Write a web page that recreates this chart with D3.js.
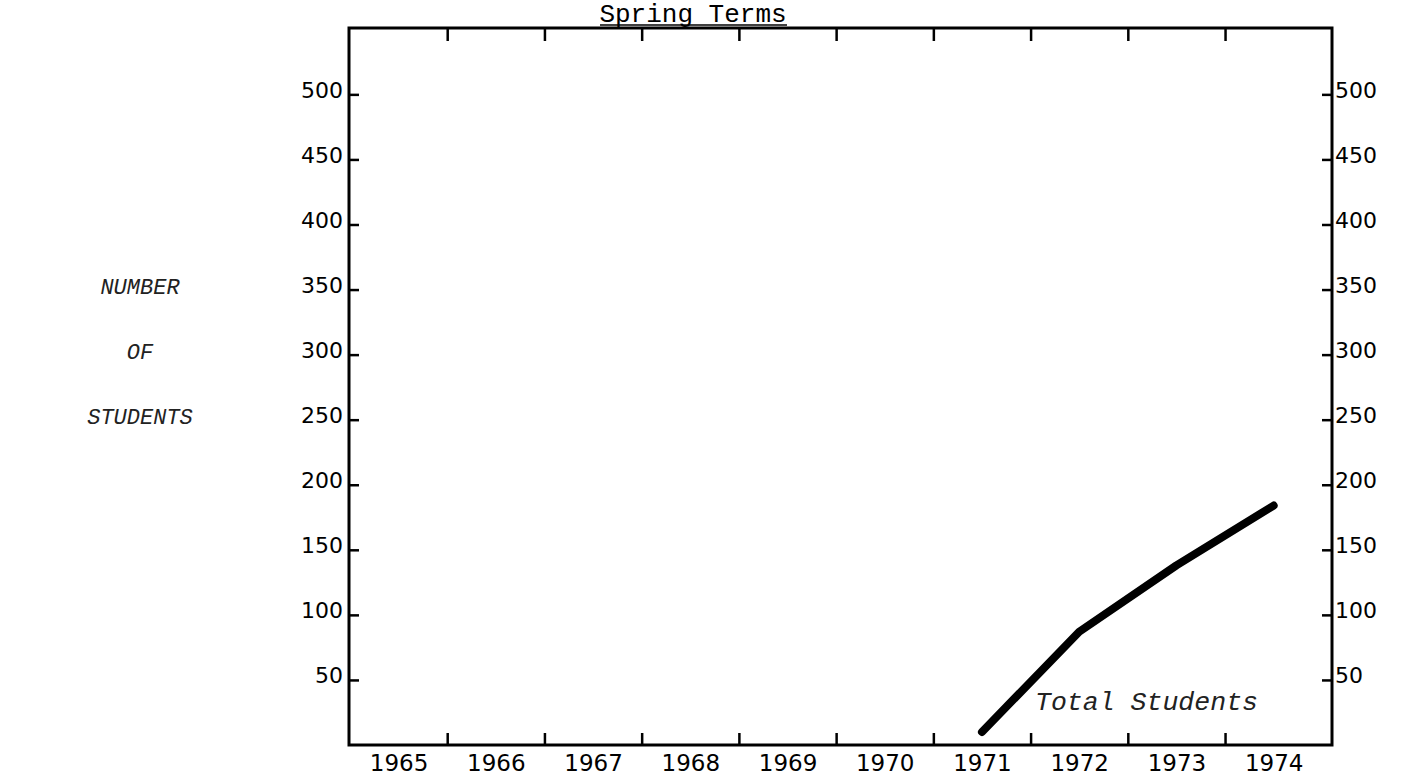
<!DOCTYPE html>
<html>
<head>
<meta charset="utf-8">
<script src="https://cdn.jsdelivr.net/npm/d3@7"></script>
<style>
  html, body { margin: 0; padding: 0; background: #fff; }
  svg { display: block; }
</style>
</head>
<body>
<svg id="chart" width="1403" height="783"></svg>
<script>
// ---- data ----
const years = [1965, 1966, 1967, 1968, 1969, 1970, 1971, 1972, 1973, 1974];
const tickYears = [1965.5, 1966.5, 1967.5, 1968.5, 1969.5, 1970.5, 1971.5, 1972.5, 1973.5];
const yTicks = [50, 100, 150, 200, 250, 300, 350, 400, 450, 500];
const seriesYears = [1971, 1972, 1973, 1974];
const totalStudents = [10, 87, 138, 184];
const chartTitle = "Spring Terms";
const seriesLabel = "Total Students";
const yTitle = ["NUMBER", "OF", "STUDENTS"];

// ---- layout ----
const mLeft = 349, mRight = 1332, mTop = 28, mBottom = 745;
const svg = d3.select("#chart");
svg.append("rect").attr("width", 1403).attr("height", 783).attr("fill", "#fff");

const x = d3.scaleLinear().domain([1964.49, 1974.6]).range([mLeft, mRight]);
const y = d3.scaleLinear().domain([0, 551]).range([mBottom, mTop]);

const tickFont = "'DejaVu Sans', sans-serif";
const monoFont = "'Liberation Mono', 'Courier New', monospace";

// frame
svg.append("rect")
  .attr("x", mLeft).attr("y", mTop)
  .attr("width", mRight - mLeft).attr("height", mBottom - mTop)
  .attr("fill", "none").attr("stroke", "#000").attr("stroke-width", 3);

function styleAxis(g) {
  g.select(".domain").remove();
  g.selectAll(".tick line").attr("stroke", "#000").attr("stroke-width", 2.5);
  g.selectAll(".tick text").attr("fill", "#000");
}

// bottom ticks (inward)
svg.append("g").attr("transform", `translate(0,${mBottom})`)
  .call(d3.axisBottom(x).tickValues(tickYears).tickSize(-12).tickFormat(""))
  .call(styleAxis);
// top ticks (inward)
svg.append("g").attr("transform", `translate(0,${mTop})`)
  .call(d3.axisTop(x).tickValues(tickYears).tickSize(-13).tickFormat(""))
  .call(styleAxis);
// bottom year labels
const xl = svg.append("g").attr("transform", `translate(0,${mBottom})`)
  .call(d3.axisBottom(x).tickValues(years).tickSize(0).tickPadding(10).tickFormat(d3.format("d")))
  .call(styleAxis);
xl.selectAll(".tick text").attr("font-family", tickFont).attr("font-size", 23).attr("dy", "0.71em");

// left axis
const yl = svg.append("g").attr("transform", `translate(${mLeft},0)`)
  .call(d3.axisLeft(y).tickValues(yTicks).tickSize(-10).tickPadding(6))
  .call(styleAxis);
yl.selectAll(".tick text").attr("font-family", tickFont).attr("font-size", 22).attr("dy", "0.12em");

// right axis
const yr = svg.append("g").attr("transform", `translate(${mRight},0)`)
  .call(d3.axisRight(y).tickValues(yTicks).tickSize(-10).tickPadding(3))
  .call(styleAxis);
yr.selectAll(".tick text").attr("font-family", tickFont).attr("font-size", 22).attr("dy", "0.12em");

// title
svg.append("text")
  .attr("x", 693).attr("y", 22)
  .attr("text-anchor", "middle")
  .attr("font-family", monoFont).attr("font-size", 26)
  .attr("fill", "#000")
  .text(chartTitle);
svg.append("line")
  .attr("x1", 600).attr("x2", 787).attr("y1", 25).attr("y2", 25)
  .attr("stroke", "#000").attr("stroke-width", 1.5);

// y title
yTitle.forEach((t, i) => {
  svg.append("text")
    .attr("x", 140).attr("y", y(350 - 50 * i) + 4)
    .attr("text-anchor", "middle")
    .attr("font-family", monoFont).attr("font-style", "italic")
    .attr("font-size", 22).attr("fill", "#222")
    .text(t);
});

// series line
const line = d3.line().x((d, i) => x(seriesYears[i])).y(d => y(d)).curve(d3.curveLinear);
svg.append("path")
  .datum(totalStudents)
  .attr("d", line)
  .attr("fill", "none").attr("stroke", "#000")
  .attr("stroke-width", 8).attr("stroke-linecap", "round").attr("stroke-linejoin", "round");

// series label
svg.append("text")
  .attr("x", 1035).attr("y", 710)
  .attr("font-family", monoFont).attr("font-style", "italic")
  .attr("font-size", 26).attr("fill", "#222")
  .attr("textLength", 223).attr("lengthAdjust", "spacingAndGlyphs")
  .text(seriesLabel);
</script>
</body>
</html>
